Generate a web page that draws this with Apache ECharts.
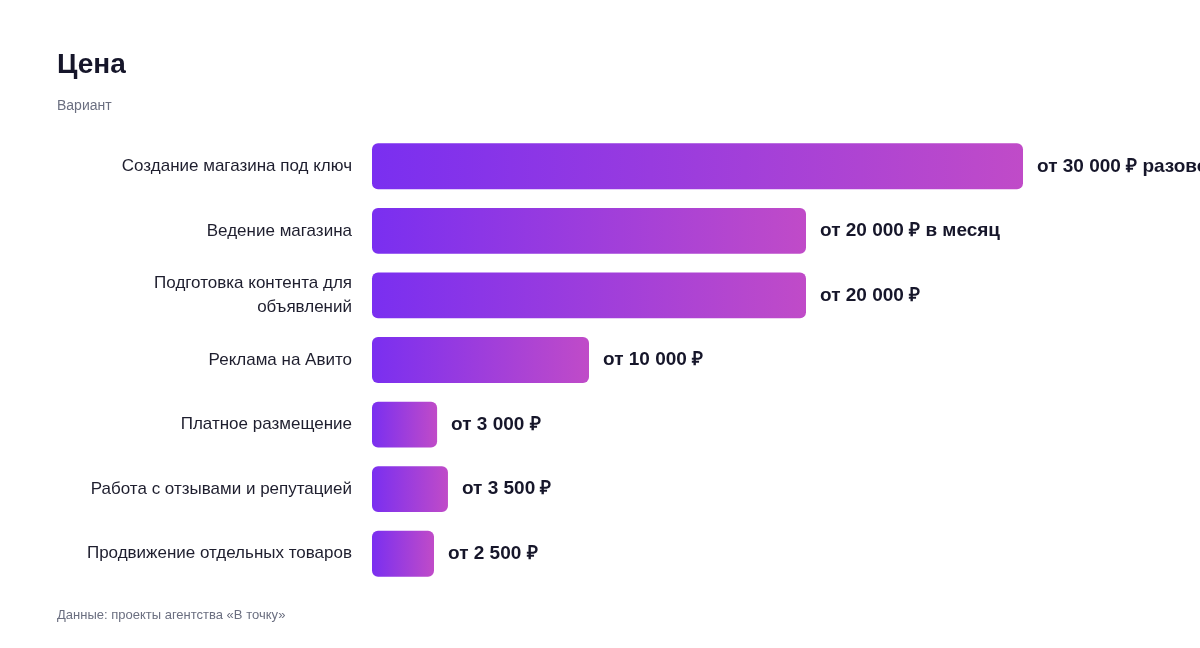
<!DOCTYPE html>
<html><head><meta charset="utf-8">
<script src="https://cdn.jsdelivr.net/npm/echarts@6/dist/echarts.min.js"></script>
<style>html,body{margin:0;padding:0;background:#fff}#c{width:1200px;height:648px}</style>
</head><body><div id="c"></div>
<script>
const categories = ['Создание магазина под ключ', 'Ведение магазина', 'Подготовка контента для\nобъявлений',
  'Реклама на Авито', 'Платное размещение', 'Работа с отзывами и репутацией', 'Продвижение отдельных товаров']
const values = [30000, 20000, 20000, 10000, 3000, 3500, 2500]
const valueLabels = ['от 30 000 ₽ разово', 'от 20 000 ₽ в месяц', 'от 20 000 ₽', 'от 10 000 ₽',
  'от 3 000 ₽', 'от 3 500 ₽', 'от 2 500 ₽']

const chart = echarts.init(document.getElementById('c'))
const font = 'Helvetica, "Liberation Sans", Arial, sans-serif'

chart.setOption({
  animation: false,
  textStyle: { fontFamily: font },
  title: [
    { text: 'Цена', left: 52, top: 46, textStyle: { fontSize: 28, fontWeight: 'bold', color: '#16162a' } },
    { text: 'Вариант', left: 52, top: 94, textStyle: { fontSize: 14, fontWeight: 'normal', color: '#6b6f80' } },
    { text: 'Данные: проекты агентства «В точку»', left: 52, top: 604, textStyle: { fontSize: 13, fontWeight: 'normal', color: '#6b6f80' } }
  ],
  grid: { left: 372, right: 177, top: 134, bottom: 62 },
  xAxis: { type: 'value', min: 0, max: 30000, show: false },
  yAxis: {
    type: 'category', inverse: true, data: categories,
    axisLine: { show: false }, axisTick: { show: false },
    axisLabel: { margin: 20, fontSize: 17, color: '#1e1e2e', lineHeight: 24, align: 'right' }
  },
  series: [{
    type: 'bar',
    data: values,
    barCategoryGap: '29%',
    barMinHeight: 62,
    itemStyle: {
      borderRadius: 6,
      color: new echarts.graphic.LinearGradient(0, 0, 1, 0, [
        { offset: 0, color: '#7a2ff0' }, { offset: 1, color: '#c04bc8' }
      ])
    },
    label: {
      show: true, position: 'right', distance: 14,
      formatter: p => valueLabels[p.dataIndex],
      fontSize: 19, fontWeight: 'bold', color: '#16162a'
    }
  }]
})
</script></body></html>
